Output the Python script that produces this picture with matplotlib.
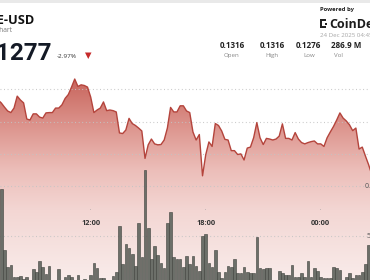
import numpy as np
import matplotlib
matplotlib.use("Agg")
import matplotlib.pyplot as plt
from matplotlib.patches import Polygon, Rectangle

# ---------------- data ----------------
pair = "DOGE-USD"
subtitle = "Chart"
last_price = "0.1277"
change_pct = "-2.97%"
stat_values = ["0.1316", "0.1316", "0.1276", "286.9 M"]
stat_labels = ["Open", "High", "Low", "Vol"]
date_text = "24 Dec 2025 04:45"
time_tick_hours = [12, 18, 24]
time_tick_labels = ["12:00", "18:00", "00:00"]
price_grid = [0.1310, 0.1300, 0.1290, 0.1280]
volume_grid = [5]

price_start = 7 + 10 / 60   # 07:10, 10-minute steps
prices = [0.13067, 0.13058, 0.13045, 0.13033, 0.13028, 0.13042, 0.13079, 0.13067, 0.13058, 0.13008, 0.13005,
          0.13024, 0.13024, 0.13014, 0.13011, 0.13027, 0.13028, 0.13028, 0.13042, 0.13042, 0.13052,
          0.13072, 0.13084, 0.13107, 0.13132, 0.13109, 0.13114, 0.13112, 0.13107, 0.13076, 0.13028,
          0.13036, 0.13042, 0.13061, 0.13034, 0.13036, 0.13034, 0.13030, 0.12965, 0.12963, 0.12974,
          0.13010, 0.12994, 0.12988, 0.12980, 0.12971, 0.12886, 0.12928, 0.12946, 0.12931, 0.12928,
          0.12929, 0.12943, 0.12980, 0.13044, 0.13030, 0.13030, 0.13049, 0.13049, 0.13033, 0.13028,
          0.12968, 0.12943, 0.12960, 0.12832, 0.12897, 0.12937, 0.12923, 0.12994, 0.12988, 0.12971,
          0.12945, 0.12943, 0.12910, 0.12910, 0.12898, 0.12900, 0.12881, 0.12918, 0.12921, 0.12950,
          0.12997, 0.12950, 0.12929, 0.12948, 0.12946, 0.12943, 0.12946, 0.12955, 0.12993, 0.12948,
          0.12948, 0.12943, 0.12966, 0.12946, 0.12935, 0.12931, 0.12935, 0.12938, 0.12940, 0.12931,
          0.12931, 0.12923, 0.12950, 0.12968, 0.12985, 0.13005, 0.13027, 0.13011, 0.13002, 0.12990,
          0.12972, 0.12980, 0.12915, 0.12921, 0.12893, 0.12866, 0.12835]

volume_start = 7 + 20 / 60  # 07:20, 10-minute bars (millions)
volumes = [9.7, 3.6, 1.9, 2.1, 0.9, 0.9, 1.0, 0.7, 0.9, 0.4,
           1.7, 1.4, 2.5, 1.9, 1.2, 2.0, 0.4, 0.5, 1.7, 0.5,
           0.9, 1.1, 0.9, 0.4, 1.1, 0.5, 0.7, 0.4, 1.1, 2.3,
           1.8, 0.8, 0.8, 0.5, 0.5, 1.0, 1.4, 6.0, 2.2, 4.2,
           3.8, 3.2, 2.0, 6.3, 2.9, 11.6, 5.8, 2.7, 4.0, 3.1,
           2.3, 1.8, 6.3, 7.4, 2.9, 2.7, 2.7, 1.9, 3.0, 2.2,
           3.0, 2.0, 1.5, 5.0, 5.2, 2.3, 1.9, 3.6, 1.4, 0.8,
           1.4, 2.0, 1.9, 2.7, 1.3, 1.3, 1.9, 1.4, 1.3, 1.3,
           4.9, 1.8, 1.7, 1.8, 1.8, 0.4, 0.4, 1.5, 1.3, 1.1,
           1.1, 2.1, 0.9, 0.9, 1.3, 0.9, 2.5, 0.9, 1.8, 1.5,
           0.9, 0.8, 0.8, 0.8, 1.9, 1.8, 1.6, 0.4, 0.9, 1.3,
           0.8, 1.1, 1.1, 1.4, 2.2, 4.1]

# ---------------- figure ----------------
W, H = 370, 280
plt.rcParams['font.family'] = ['Open Sans', 'DejaVu Sans']

fig = plt.figure(figsize=(W / 100, H / 100), dpi=100)
fig.patch.set_facecolor('white')

ax = fig.add_axes([0, 0, 1, 1])
ax.set_xlim(7.2686, 26.570)
ax.set_ylim(0.12509, 0.13377)
ax.axis('off')

t_price = price_start + np.arange(len(prices)) / 6.0
p = np.array(prices)

# gradient fill under the price line
y0, y1 = ax.get_ylim()
rows = 280
ypix = np.linspace(0, 280, rows)
anch_y = [60, 90, 130, 170, 210, 280]
anch_c = np.array([[194, 86, 78], [205, 112, 104], [222, 152, 145],
                   [236, 190, 185], [243, 214, 211], [249, 236, 234]]) / 255.0
img = np.zeros((rows, 1, 3))
for c in range(3):
    img[:, 0, c] = np.interp(ypix, anch_y, anch_c[:, c])
im = ax.imshow(img, extent=[ax.get_xlim()[0], ax.get_xlim()[1], y0, y1],
               aspect='auto', origin='upper', zorder=1, interpolation='bilinear')
fb = ax.fill_between(t_price, p, y0, facecolor='none', edgecolor='none')
im.set_clip_path(fb.get_paths()[0], transform=ax.transData)

for g in price_grid:
    ax.axhline(g, color='#c4c4c4', lw=0.8, linestyle=(0, (0.8, 2.4)), zorder=2)

ax.plot(t_price, p, color='#b4443c', lw=1.0, zorder=4, solid_joinstyle='round')

axv = ax.twinx()
axv.set_ylim(0.6, 28.6)
axv.axis('off')
for g in volume_grid:
    axv.axhline(g, color='#c4c4c4', lw=0.8, linestyle=(0, (0.8, 2.4)), zorder=1)
t_vol = volume_start + np.arange(len(volumes)) / 6.0
axv.bar(t_vol, volumes, width=0.82 / 6, color='#6c6f69', edgecolor='#3d403b',
        linewidth=0.4, zorder=3)


def ftxt(x, y, s, **kw):
    return fig.text(x / W, 1 - y / H, s, **kw)


def fx(x):
    return x / W


def fy(y):
    return 1 - y / H


# time axis labels with small tick dots
xl = ax.get_xlim()
for h, lab in zip(time_tick_hours, time_tick_labels):
    xp = (h - xl[0]) / (xl[1] - xl[0]) * W
    ftxt(xp, 210.5, "•", ha='center', va='center', fontsize=2.5, color='#9a9a9a')
    ftxt(xp, 225, lab, ha='center', va='baseline', fontsize=5.3, fontweight='bold', color='#333333')

# right-edge axis labels (cut by figure edge)
ftxt(365, 188.5, "0.128", ha='left', va='baseline', fontsize=5, color='#555555')
ftxt(367, 238.5, "5M", ha='left', va='baseline', fontsize=5, color='#555555')

# ---------------- header ----------------
fig.add_artist(Rectangle((0, fy(2.5)), 1, 1 - fy(2.5), transform=fig.transFigure,
                         facecolor='#e9e9e9', edgecolor='none'))
ftxt(35.5, 24, pair, ha='right', va='baseline', fontsize=9.2, fontweight='bold', color='#111111')
ftxt(13, 32, subtitle, ha='right', va='baseline', fontsize=4.8, color='#777777')
ftxt(52, 60, last_price, ha='right', va='baseline', fontsize=17.5, fontweight='bold',
     color='#141a26', family=['Roboto', 'DejaVu Sans'])
ftxt(57, 58.3, change_pct, ha='left', va='baseline', fontsize=4.6, color='#333333')
tri = Polygon([(fx(85), fy(52.5)), (fx(91.5), fy(52.5)), (fx(88.25), fy(59))],
              closed=True, transform=fig.transFigure, facecolor='#c62a2a', edgecolor='none')
fig.add_artist(tri)

ftxt(320, 11.5, "Powered by", ha='left', va='baseline', fontsize=4.2, fontweight='bold', color='#222222')
# CoinDesk mark
for (x0, y0_, w, h) in [(320, 19, 2, 9), (320, 19, 6, 2), (320, 26, 6, 2), (324.5, 22.5, 2, 2)]:
    fig.add_artist(Rectangle((fx(x0), fy(y0_ + h)), w / W, h / H, transform=fig.transFigure,
                             facecolor='#222222', edgecolor='none'))
ftxt(329, 28, "CoinDesk", ha='left', va='baseline', fontsize=9, fontweight='bold', color='#1c1c1c')
ftxt(320, 37, date_text, ha='left', va='baseline', fontsize=4.4, color='#a6a6a6')

val_x = [232.5, 272.5, 308.5, 346.5]
lab_x = [232, 272, 309, 338]
for vx, lx, v, l in zip(val_x, lab_x, stat_values, stat_labels):
    ftxt(vx, 48, v, ha='center', va='baseline', fontsize=5.8, fontweight='bold', color='#222222')
    ftxt(lx, 57, l, ha='center', va='baseline', fontsize=4.4, color='#888888')

fig.savefig("out.png", dpi=100)
